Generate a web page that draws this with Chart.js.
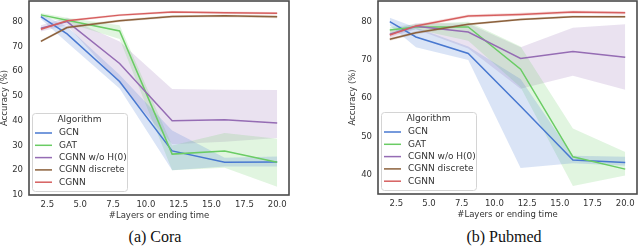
<!DOCTYPE html>
<html>
<head>
<meta charset="utf-8">
<script src="https://cdn.jsdelivr.net/npm/chart.js@4.4.1/dist/chart.umd.min.js"></script>
<style>
  html, body { margin: 0; padding: 0; background: #fff; }
  #wrap { position: relative; width: 640px; height: 246px; overflow: hidden; }
  .panel { position: absolute; top: 0; width: 320px; height: 225px; }
  .caption { position: absolute; top: 229px; line-height: 16px; font-family: 'Liberation Serif', 'Times New Roman', serif; font-size: 16px; color: #111; transform: translateX(-50%); white-space: nowrap; }
</style>
</head>
<body>
<div id="wrap">
  <div class="panel" style="left:0"><canvas id="coraChart" width="320" height="225"></canvas></div>
  <div class="panel" style="left:320px"><canvas id="pubmedChart" width="320" height="225"></canvas></div>
  <div class="caption" style="left:155px">(a) Cora</div>
  <div class="caption" style="left:504px">(b) Pubmed</div>
</div>
<script>
// x positions (#layers / ending time) and tick labels
const xs = [2, 4, 8, 12, 16, 20];
const xTicks = [2.5, 5, 7.5, 10, 12.5, 15, 17.5, 20];
const coraYTicks = [10, 20, 30, 40, 50, 60, 70, 80];
const pubmedYTicks = [40, 50, 60, 70, 80];

const algorithms = ['GCN', 'GAT', 'CGNN w/o H(0)', 'CGNN discrete', 'CGNN'];
const colors = ['#4878d0', '#6acc64', '#956cb4', '#8c613c', '#d65f5f'];

// Cora - mean accuracy
const coraGCN      = [82.0, 75.0, 55.8, 27.8, 23.2, 23.3];
const coraGAT      = [82.7, 80.5, 76.2, 26.5, 27.8, 23.2];
const coraNoH0     = [77.3, 80.0, 63.1, 40.0, 40.4, 39.1];
const coraDiscrete = [72.0, 77.6, 80.3, 82.0, 82.3, 81.9];
const coraCGNN     = [76.9, 80.3, 82.6, 83.9, 83.6, 83.4];
// Cora - confidence band (low / high)
const coraGCNLo      = [81.0, 71.5, 53.0, 20.0, 21.5, 21.5];
const coraGCNHi      = [83.0, 78.0, 58.5, 36.0, 25.0, 25.5];
const coraGATLo      = [82.0, 79.5, 73.0, 20.0, 21.0, 13.3];
const coraGATHi      = [83.5, 81.5, 78.5, 30.0, 35.0, 32.7];
const coraNoH0Lo     = [76.0, 78.5, 55.0, 30.5, 31.5, 33.0];
const coraNoH0Hi     = [78.5, 81.5, 72.0, 52.8, 52.5, 52.4];
const coraDiscreteLo = [71.5, 77.0, 79.8, 81.5, 81.7, 81.3];
const coraDiscreteHi = [72.5, 78.2, 80.8, 82.5, 82.8, 82.5];
const coraCGNNLo     = [76.3, 79.8, 82.1, 83.4, 83.1, 82.9];
const coraCGNNHi     = [77.5, 80.8, 83.1, 84.4, 84.1, 83.9];

// Pubmed - mean accuracy
const pubGCN      = [80.0, 76.0, 71.7, 57.9, 43.9, 43.2];
const pubGAT      = [77.8, 78.6, 78.6, 67.6, 44.7, 41.5];
const pubNoH0     = [76.7, 78.8, 77.3, 70.4, 72.2, 70.7];
const pubDiscrete = [75.4, 77.1, 79.3, 80.6, 81.3, 81.3];
const pubCGNN     = [76.5, 78.9, 81.5, 81.9, 82.5, 82.3];
// Pubmed - confidence band (low / high)
const pubGCNLo      = [79.0, 73.3, 70.0, 41.8, 43.0, 42.4];
const pubGCNHi      = [81.0, 78.5, 73.5, 65.0, 45.0, 44.7];
const pubGATLo      = [77.0, 78.0, 75.0, 62.9, 37.1, 39.8];
const pubGATHi      = [78.6, 79.3, 80.0, 73.5, 52.1, 46.0];
const pubNoH0Lo     = [75.8, 78.0, 73.0, 62.5, 65.9, 62.2];
const pubNoH0Hi     = [77.6, 79.6, 79.5, 73.3, 78.4, 79.3];
const pubDiscreteLo = [75.0, 76.7, 79.0, 80.3, 81.0, 81.0];
const pubDiscreteHi = [75.8, 77.5, 79.6, 80.9, 81.6, 81.6];
const pubCGNNLo     = [76.0, 78.5, 81.1, 81.5, 82.1, 81.9];
const pubCGNNHi     = [77.0, 79.3, 81.9, 82.3, 82.9, 82.7];

const FONT = '"DejaVu Sans", sans-serif';
const TEXT = '#333';

function hexA(hex, a) {
    const n = parseInt(hex.slice(1), 16);
    return 'rgba(' + (n >> 16) + ',' + ((n >> 8) & 255) + ',' + (n & 255) + ',' + a + ')';
}

function pts(arr) {
    return arr.map((v, i) => ({ x: xs[i], y: v }));
}

// frame around the plot area (all four spines)
const frame = {
    id: 'frame',
    afterDraw(chart) {
        const { ctx, chartArea: a } = chart;
        ctx.save();
        ctx.strokeStyle = '#4a4a4a';
        ctx.lineWidth = 1.6;
        ctx.strokeRect(a.left, a.top, a.right - a.left, a.bottom - a.top);
        ctx.restore();
    }
};

// legend box inside the plot, lower left, like seaborn
const legendBox = {
    id: 'legendBox',
    afterDatasetsDraw(chart) {
        const { ctx, chartArea: a } = chart;
        const w = 95, h = 78;
        const x = a.left + 3, y = a.bottom - 4 - h;
        ctx.save();
        ctx.beginPath();
        ctx.roundRect(x + 0.5, y + 0.5, w, h, 3);
        ctx.fillStyle = 'rgba(255,255,255,0.8)';
        ctx.fill();
        ctx.strokeStyle = '#d4d4d4';
        ctx.lineWidth = 1;
        ctx.stroke();
        ctx.font = '9px ' + FONT;
        ctx.fillStyle = TEXT;
        ctx.textBaseline = 'middle';
        ctx.textAlign = 'center';
        ctx.fillText('Algorithm', x + w / 2, y + 7);
        ctx.textAlign = 'left';
        algorithms.forEach((name, i) => {
            const ly = y + 20 + i * 12.3;
            ctx.strokeStyle = colors[i];
            ctx.lineWidth = 1.5;
            ctx.beginPath();
            ctx.moveTo(x + 3, ly);
            ctx.lineTo(x + 20, ly);
            ctx.stroke();
            ctx.fillStyle = TEXT;
            ctx.fillText(name, x + 27, ly);
        });
        ctx.restore();
    }
};

function makeChart(id, means, lows, highs, yTicks, yMin, yMax, pad, yWidth) {
    const datasets = [];
    // lines first (drawn on top), later algorithms above earlier ones
    means.forEach((m, i) => {
        datasets.push({
            label: algorithms[i],
            data: pts(m),
            borderColor: colors[i],
            borderWidth: 1.5,
            pointRadius: 0,
            fill: false,
            order: 4 - i
        });
    });
    // bands: lower edge then upper edge filled down to it
    lows.forEach((lo, i) => {
        datasets.push({
            data: pts(lo),
            borderWidth: 0,
            borderColor: 'rgba(0,0,0,0)',
            pointRadius: 0,
            fill: false,
            order: 10
        });
        datasets.push({
            data: pts(highs[i]),
            borderWidth: 0,
            borderColor: 'rgba(0,0,0,0)',
            pointRadius: 0,
            backgroundColor: hexA(colors[i], 0.2),
            fill: '-1',
            order: 10
        });
    });

    return new Chart(document.getElementById(id), {
        type: 'line',
        data: { datasets: datasets },
        options: {
            responsive: false,
            animation: false,
            layout: { padding: pad },
            plugins: {
                legend: { display: false },
                tooltip: { enabled: false }
            },
            scales: {
                x: {
                    type: 'linear',
                    min: 1.1,
                    max: 20.9,
                    afterBuildTicks: s => { s.ticks = xTicks.map(v => ({ value: v })); },
                    afterFit: s => { s.height = 30; s.paddingLeft = 0; s.paddingRight = 0; },
                    grid: { display: false, drawTicks: false },
                    border: { display: false },
                    ticks: {
                        padding: 5,
                        color: TEXT,
                        font: { family: FONT, size: 8.5 },
                        maxRotation: 0,
                        callback: v => v.toFixed(1)
                    },
                    title: {
                        display: true,
                        text: '#Layers or ending time',
                        color: TEXT,
                        font: { family: FONT, size: 8.5 },
                        padding: { top: 0, bottom: 4 }
                    }
                },
                y: {
                    min: yMin,
                    max: yMax,
                    afterBuildTicks: s => { s.ticks = yTicks.map(v => ({ value: v })); },
                    // fixed width, and no extra room for half tick labels at top/bottom
                    afterFit: s => { s.width = yWidth; s.paddingTop = 0; s.paddingBottom = 0; },
                    grid: { display: false, drawTicks: false },
                    border: { display: false },
                    ticks: {
                        padding: 6,
                        color: TEXT,
                        font: { family: FONT, size: 8.5 }
                    },
                    title: {
                        display: true,
                        text: 'Accuracy (%)',
                        color: TEXT,
                        font: { family: FONT, size: 8.5 },
                        padding: 0
                    }
                }
            }
        },
        plugins: [legendBox, frame]
    });
}

makeChart('coraChart',
    [coraGCN, coraGAT, coraNoH0, coraDiscrete, coraCGNN],
    [coraGCNLo, coraGATLo, coraNoH0Lo, coraDiscreteLo, coraCGNNLo],
    [coraGCNHi, coraGATHi, coraNoH0Hi, coraDiscreteHi, coraCGNNHi],
    coraYTicks, 10, 88.3, { left: 0, top: 1, right: 31, bottom: 0 }, 29);

makeChart('pubmedChart',
    [pubGCN, pubGAT, pubNoH0, pubDiscrete, pubCGNN],
    [pubGCNLo, pubGATLo, pubNoH0Lo, pubDiscreteLo, pubCGNNLo],
    [pubGCNHi, pubGATHi, pubNoH0Hi, pubDiscreteHi, pubCGNNHi],
    pubmedYTicks, 35, 85.4, { left: 28, top: 1, right: 3, bottom: 1 }, 30);
</script>
</body>
</html>
